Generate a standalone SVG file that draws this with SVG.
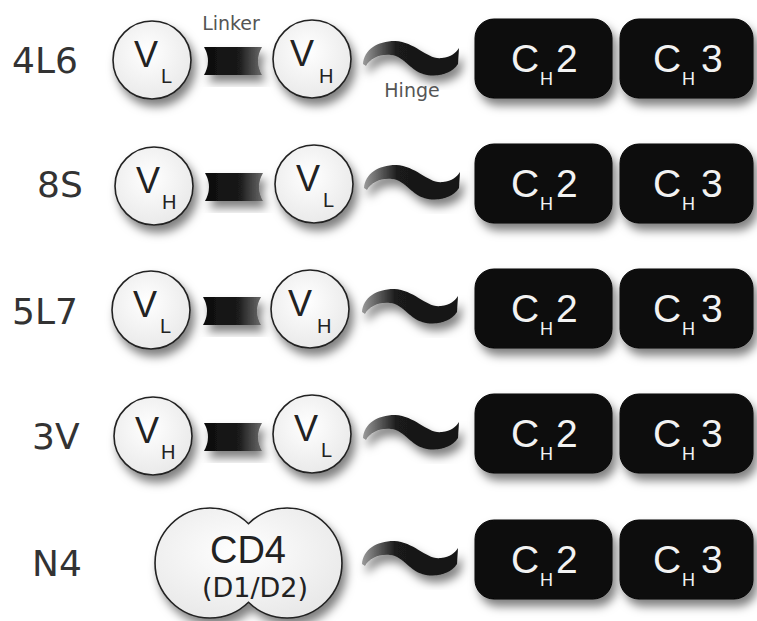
<svg xmlns="http://www.w3.org/2000/svg" width="757" height="621" viewBox="0 0 757 621">
<defs>
  <filter id="sh" x="-30%" y="-30%" width="160%" height="170%">
    <feDropShadow dx="4" dy="7" stdDeviation="5" flood-color="#000" flood-opacity="0.5"/>
  </filter>
  <radialGradient id="gc" cx="0.45" cy="0.4" r="0.65">
    <stop offset="0" stop-color="#ffffff"/>
    <stop offset="1" stop-color="#e8e8e8"/>
  </radialGradient>
  <linearGradient id="gl" x1="0" y1="0" x2="1" y2="0">
    <stop offset="0" stop-color="#0d0d0d"/>
    <stop offset="0.6" stop-color="#1a1a1a"/>
    <stop offset="1" stop-color="#6a6a6a"/>
  </linearGradient>
  <linearGradient id="gh" x1="0" y1="0" x2="1" y2="0">
    <stop offset="0" stop-color="#9a9a9a"/>
    <stop offset="0.35" stop-color="#1a1a1a"/>
    <stop offset="1" stop-color="#151515"/>
  </linearGradient>
  <path id="hingeShape" d="M363,64 C364,50 377,41 395,41 C416,42 427,60 442,58 C451,57 456,53 459,48 L458,64 C452,73 440,77 427,75 C410,72 405,56 391,55 C379,54 370,59 366,66 Z"/>
  <path id="linkerShape" d="M204,47 L262,47 Q254,61 262,75 L204,75 Q212,61 204,47 Z"/>
</defs>
<style>
  .lbl{font-family:"DejaVu Sans",Arial,sans-serif;font-size:36px;fill:#333}
  .circ{fill:url(#gc);stroke:#222;stroke-width:1.6}
  .v{font-family:"Liberation Sans",Arial,sans-serif;font-size:36px;fill:#222}
  .vs{font-size:20px}
  .box{fill:#111;stroke:#000;stroke-width:1}
  .c{font-family:"Liberation Sans",Arial,sans-serif;font-size:39px;fill:#f2f2f2}
  .cs{font-size:18px}
  .note{font-family:"DejaVu Sans",Arial,sans-serif;font-size:19px;fill:#555}
  .linker{fill:url(#gl)}
  .hinge{fill:url(#gh)}
  .cd4{fill:#222}
</style>
<rect width="757" height="621" fill="#ffffff"/>

<!-- Row 1: 4L6 -->
<g id="row-4L6">
  <text class="lbl" x="12" y="73">4L6</text>
  <g id="r1-vl" filter="url(#sh)"><circle class="circ" cx="152" cy="60" r="39"/></g>
  <text class="v" x="134" y="67">V<tspan class="vs" x="161" y="83">L</tspan></text>
  <use id="r1-linker" href="#linkerShape" class="linker" filter="url(#sh)"/>
  <g id="r1-vh" filter="url(#sh)"><circle class="circ" cx="312" cy="59" r="39"/></g>
  <text class="v" x="290" y="66">V<tspan class="vs" x="319" y="83">H</tspan></text>
  <use id="r1-hinge" href="#hingeShape" class="hinge" filter="url(#sh)"/>
  <text class="note" x="231" y="30" text-anchor="middle">Linker</text>
  <text class="note" x="412" y="97" text-anchor="middle">Hinge</text>
  <g id="r1-ch2"><rect class="box" x="475" y="19" width="137" height="79" rx="19" filter="url(#sh)"/>
    <text class="c" x="511" y="72">C<tspan class="cs" x="540" y="85">H</tspan><tspan x="556" y="72">2</tspan></text></g>
  <g id="r1-ch3"><rect class="box" x="620" y="19" width="133" height="79" rx="19" filter="url(#sh)"/>
    <text class="c" x="653" y="72">C<tspan class="cs" x="682" y="85">H</tspan><tspan x="701" y="72">3</tspan></text></g>
</g>

<!-- Row 2: 8S -->
<g id="row-8S">
  <text class="lbl" x="37" y="197">8S</text>
  <g id="r2-vh" filter="url(#sh)"><circle class="circ" cx="154" cy="186" r="39"/></g>
  <text class="v" x="136" y="193">V<tspan class="vs" x="162" y="209">H</tspan></text>
  <use id="r2-linker" href="#linkerShape" class="linker" filter="url(#sh)" transform="translate(1,126)"/>
  <g id="r2-vl" filter="url(#sh)"><circle class="circ" cx="314" cy="184" r="39"/></g>
  <text class="v" x="296" y="191">V<tspan class="vs" x="323" y="207">L</tspan></text>
  <use id="r2-hinge" href="#hingeShape" class="hinge" filter="url(#sh)" transform="translate(1,124)"/>
  <g id="r2-ch2"><rect class="box" x="475" y="144" width="137" height="79" rx="19" filter="url(#sh)"/>
    <text class="c" x="511" y="197">C<tspan class="cs" x="540" y="210">H</tspan><tspan x="556" y="197">2</tspan></text></g>
  <g id="r2-ch3"><rect class="box" x="620" y="144" width="133" height="79" rx="19" filter="url(#sh)"/>
    <text class="c" x="653" y="197">C<tspan class="cs" x="682" y="210">H</tspan><tspan x="701" y="197">3</tspan></text></g>
</g>

<!-- Row 3: 5L7 -->
<g id="row-5L7">
  <text class="lbl" x="12" y="324">5L7</text>
  <g id="r3-vl" filter="url(#sh)"><circle class="circ" cx="151" cy="310" r="39"/></g>
  <text class="v" x="133" y="317">V<tspan class="vs" x="160" y="333">L</tspan></text>
  <use id="r3-linker" href="#linkerShape" class="linker" filter="url(#sh)" transform="translate(-1,250)"/>
  <g id="r3-vh" filter="url(#sh)"><circle class="circ" cx="310" cy="309" r="39"/></g>
  <text class="v" x="288" y="316">V<tspan class="vs" x="317" y="333">H</tspan></text>
  <use id="r3-hinge" href="#hingeShape" class="hinge" filter="url(#sh)" transform="translate(-1,248)"/>
  <g id="r3-ch2"><rect class="box" x="475" y="269" width="137" height="79" rx="19" filter="url(#sh)"/>
    <text class="c" x="511" y="322">C<tspan class="cs" x="540" y="335">H</tspan><tspan x="556" y="322">2</tspan></text></g>
  <g id="r3-ch3"><rect class="box" x="620" y="269" width="133" height="79" rx="19" filter="url(#sh)"/>
    <text class="c" x="653" y="322">C<tspan class="cs" x="682" y="335">H</tspan><tspan x="701" y="322">3</tspan></text></g>
</g>

<!-- Row 4: 3V -->
<g id="row-3V">
  <text class="lbl" x="32" y="449">3V</text>
  <g id="r4-vh" filter="url(#sh)"><circle class="circ" cx="153" cy="436" r="39"/></g>
  <text class="v" x="135" y="443">V<tspan class="vs" x="161" y="459">H</tspan></text>
  <use id="r4-linker" href="#linkerShape" class="linker" filter="url(#sh)" transform="translate(0,376)"/>
  <g id="r4-vl" filter="url(#sh)"><circle class="circ" cx="312" cy="434" r="39"/></g>
  <text class="v" x="294" y="441">V<tspan class="vs" x="321" y="457">L</tspan></text>
  <use id="r4-hinge" href="#hingeShape" class="hinge" filter="url(#sh)" transform="translate(0,374)"/>
  <g id="r4-ch2"><rect class="box" x="475" y="394" width="137" height="79" rx="19" filter="url(#sh)"/>
    <text class="c" x="511" y="447">C<tspan class="cs" x="540" y="460">H</tspan><tspan x="556" y="447">2</tspan></text></g>
  <g id="r4-ch3"><rect class="box" x="620" y="394" width="133" height="79" rx="19" filter="url(#sh)"/>
    <text class="c" x="653" y="447">C<tspan class="cs" x="682" y="460">H</tspan><tspan x="701" y="447">3</tspan></text></g>
</g>

<!-- Row 5: N4 -->
<g id="row-N4">
  <text class="lbl" x="32" y="576">N4</text>
  <g id="r5-cd4" filter="url(#sh)">
    <path d="M248.5,523.7 A55,55 0 1 1 248.5,602.3 A55,55 0 1 1 248.5,523.7 Z" fill="url(#gc)" stroke="#222" stroke-width="1.6"/>
  </g>
  <text class="cd4" x="248" y="563" font-family="Liberation Sans, Arial, sans-serif" font-size="38" text-anchor="middle">CD4</text>
  <text class="cd4" x="255" y="597" font-family="DejaVu Sans, Arial, sans-serif" font-size="27" text-anchor="middle">(D1/D2)</text>
  <use id="r5-hinge" href="#hingeShape" class="hinge" filter="url(#sh)" transform="translate(-1,500)"/>
  <g id="r5-ch2"><rect class="box" x="475" y="520" width="137" height="79" rx="19" filter="url(#sh)"/>
    <text class="c" x="511" y="573">C<tspan class="cs" x="540" y="586">H</tspan><tspan x="556" y="573">2</tspan></text></g>
  <g id="r5-ch3"><rect class="box" x="620" y="520" width="133" height="79" rx="19" filter="url(#sh)"/>
    <text class="c" x="653" y="573">C<tspan class="cs" x="682" y="586">H</tspan><tspan x="701" y="573">3</tspan></text></g>
</g>

<g id="connectors"/>
</svg>
